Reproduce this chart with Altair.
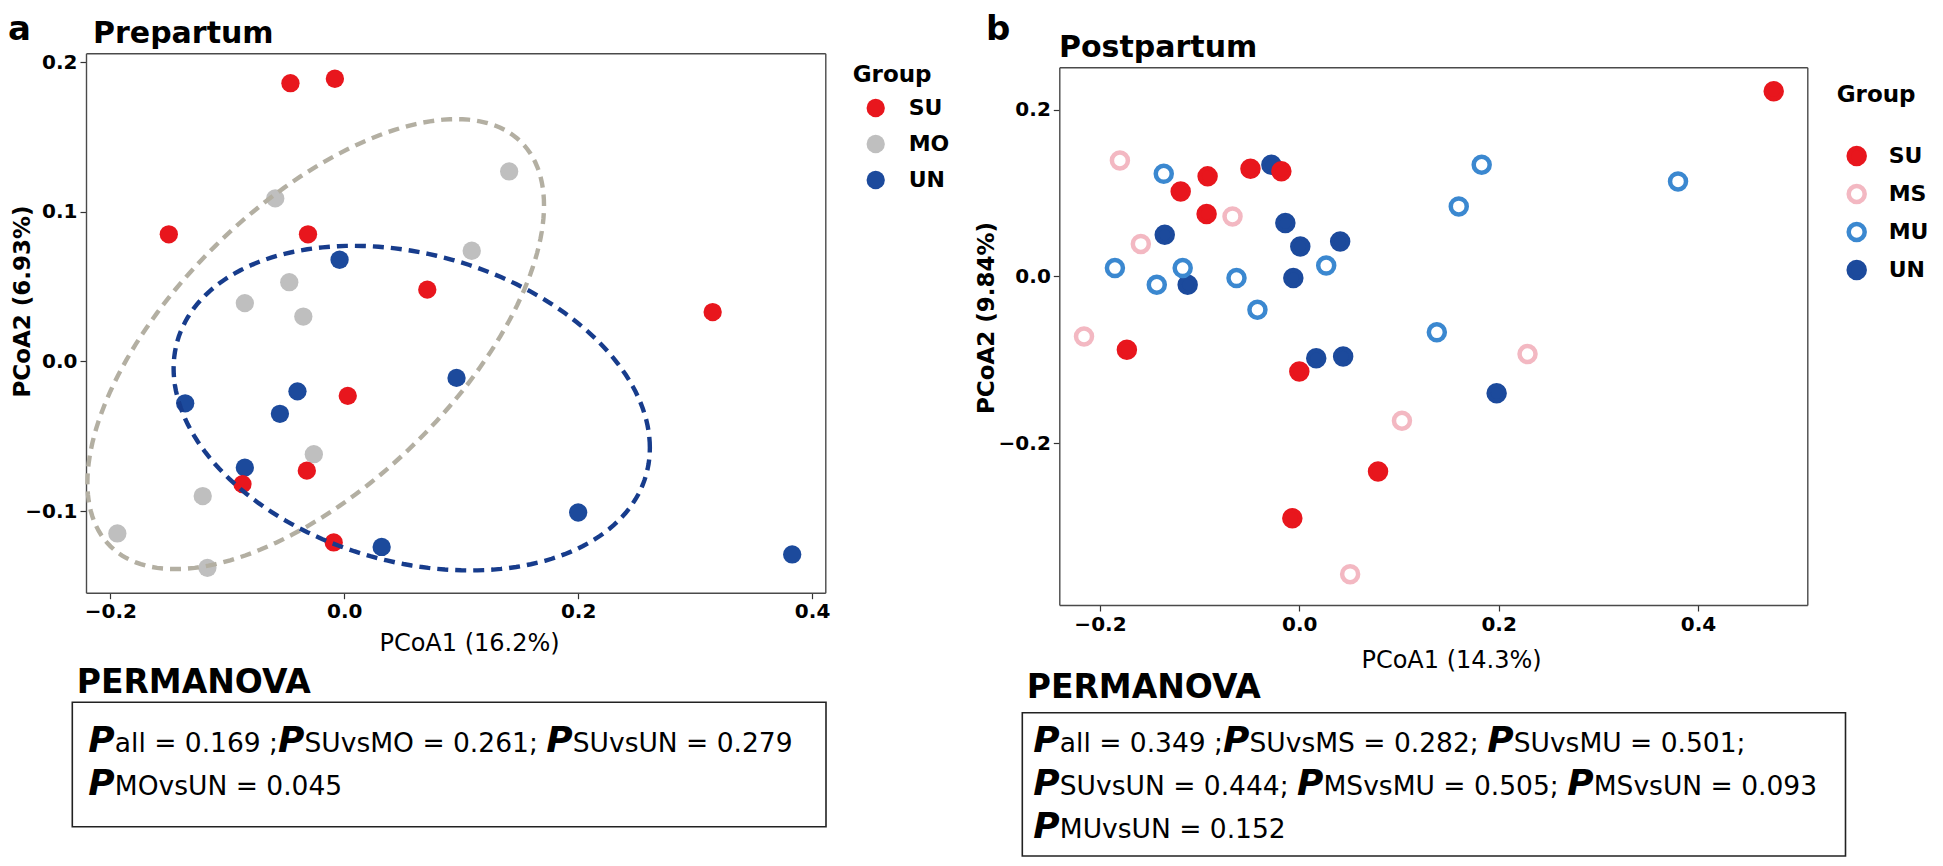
import numpy as np
import pandas as pd
import altair as alt

FONT = "DejaVu Sans"

# ---------------- data: (a) Prepartum ----------------
pre_groups = ["SU", "MO", "UN"]
pre_colors = ["#e8161d", "#bfbfbf", "#1c4a9c"]

pre_SU_x = [-0.046, -0.008, -0.150, -0.031, 0.071, 0.315, 0.003, -0.032, -0.087, -0.009]
pre_SU_y = [0.186, 0.189, 0.085, 0.085, 0.048, 0.033, -0.023, -0.073, -0.082, -0.121]
pre_MO_x = [0.141, -0.059, 0.109, -0.047, -0.085, -0.035, -0.026, -0.121, -0.194, -0.117]
pre_MO_y = [0.127, 0.109, 0.074, 0.053, 0.039, 0.030, -0.062, -0.090, -0.115, -0.138]
pre_UN_x = [-0.004, 0.096, -0.040, -0.136, -0.055, -0.085, 0.200, 0.032, 0.383]
pre_UN_y = [0.068, -0.011, -0.020, -0.028, -0.035, -0.071, -0.101, -0.124, -0.129]

# 95% ellipses (MO, UN): centre, spread, correlation
ell_groups = ["MO", "UN"]
ell_colors = ["#b3afa2", "#173c8c"]
ell_cx = [-0.0244, 0.0577]
ell_cy = [0.0116, -0.0312]
ell_sx = [0.1952, 0.2036]
ell_sy = [0.1504, 0.1085]
ell_r = [0.616, -0.2445]

# ---------------- data: (b) Postpartum ----------------
post_groups = ["SU", "MS", "MU", "UN"]
post_fill = ["#e8161d", "transparent", "transparent", "#1c4a9c"]
post_stroke = ["#e8161d", "#f3b8c2", "#3b88d0", "#1c4a9c"]

post_SU_x = [0.476, -0.092, -0.119, -0.049, -0.018, -0.093, -0.173, 0.000, 0.079, -0.007]
post_SU_y = [0.222, 0.120, 0.102, 0.129, 0.126, 0.075, -0.088, -0.114, -0.234, -0.290]
post_MS_x = [-0.180, -0.067, -0.159, -0.216, 0.229, 0.103, 0.051]
post_MS_y = [0.139, 0.072, 0.039, -0.072, -0.093, -0.173, -0.357]
post_MU_x = [-0.136, 0.183, 0.380, 0.160, -0.185, -0.117, -0.143, -0.063, 0.027, -0.042, 0.138]
post_MU_y = [0.123, 0.134, 0.114, 0.084, 0.010, 0.010, -0.010, -0.002, 0.013, -0.040, -0.067]
post_UN_x = [-0.028, -0.135, -0.014, 0.001, 0.041, -0.112, -0.006, 0.017, 0.044, 0.198]
post_UN_y = [0.134, 0.050, 0.064, 0.036, 0.042, -0.010, -0.002, -0.098, -0.096, -0.140]

# ---------------- text ----------------
pre_stats = [
    [("P", "all = 0.169 ;"), ("P", "SUvsMO = 0.261; "), ("P", "SUvsUN = 0.279")],
    [("P", "MOvsUN = 0.045")],
]
post_stats = [
    [("P", "all = 0.349 ;"), ("P", "SUvsMS = 0.282; "), ("P", "SUvsMU = 0.501;")],
    [("P", "SUvsUN = 0.444; "), ("P", "MSvsMU = 0.505; "), ("P", "MSvsUN = 0.093")],
    [("P", "MUvsUN = 0.152")],
]

# ---------------- layout (pixels, chart coordinates) ----------------
W, H = 1927, 850
L_XR, L_YR = [78.0, 817.3], [584.7, 45.3]
R_XR, R_YR = [1051.3, 1799.3], [597.0, 59.3]
L_XD, L_YD = [-0.2208, 0.4113], [-0.1546, 0.2060]
R_XD, R_YD = [-0.2408, 0.5097], [-0.3940, 0.2508]

# ---------------- tables ----------------
def mk(groups, xs, ys):
    rows = []
    for g, xv, yv in zip(groups, xs, ys):
        for a, b in zip(xv, yv):
            rows.append({"group": g, "x": a, "y": b})
    return pd.DataFrame(rows)

# drawing order: UN first, SU last
df_pre = mk(["UN", "MO", "SU"], [pre_UN_x, pre_MO_x, pre_SU_x], [pre_UN_y, pre_MO_y, pre_SU_y])
df_post = mk(["UN", "MU", "MS", "SU"], [post_UN_x, post_MU_x, post_MS_x, post_SU_x],
             [post_UN_y, post_MU_y, post_MS_y, post_SU_y])

t = np.linspace(0, 2 * np.pi, 181)
ell_frames = []
for k, g in enumerate(ell_groups):
    ex = ell_cx[k] + ell_sx[k] * np.cos(t)
    ey = ell_cy[k] + ell_sy[k] * (ell_r[k] * np.cos(t) + np.sqrt(1 - ell_r[k] ** 2) * np.sin(t))
    ell_frames.append(pd.DataFrame({"group": g, "i": np.arange(len(t)), "x": ex, "y": ey}))

# text segments widths (DejaVu Sans advance widths, em)
CW = {" ": .318, "=": .838, ".": .318, ";": .337, "a": .613, "l": .278, "S": .635,
      "U": .732, "v": .592, "s": .521, "M": .863, "O": .787, "N": .748}
def tw(s, fs):
    return sum(CW.get(c, .636) for c in s) * fs

FS_T, FS_P = 26.5, 36
def segs(lines, x0, baselines):
    prow, trow = [], []
    for line, by in zip(lines, baselines):
        x = x0
        for p, rest in line:
            prow.append({"text": p, "px": x, "py": by})
            x += 0.736 * FS_P
            trow.append({"text": rest.strip(), "px": x, "py": by})
            x += tw(rest, FS_T)
    return prow, trow

p1, t1 = segs(pre_stats, 80.3, [743.7, 787.0])
p2, t2 = segs(post_stats, 1025.3, [743.7, 787.0, 830.3])
df_P = pd.DataFrame(p1 + p2)
df_T = pd.DataFrame(t1 + t2)

df_titles = pd.DataFrame([
    {"text": "a", "px": 0, "py": 32, "fs": 34},
    {"text": "Prepartum", "px": 85, "py": 35, "fs": 30},
    {"text": "b", "px": 978, "py": 32, "fs": 34},
    {"text": "Postpartum", "px": 1051, "py": 49, "fs": 30},
    {"text": "PERMANOVA", "px": 68.7, "py": 685.3, "fs": 33},
    {"text": "PERMANOVA", "px": 1018.7, "py": 690.3, "fs": 33},
])
df_boxes = pd.DataFrame([
    {"x0": 64.3, "x1": 818.0, "y0": 694.3, "y1": 818.7},
    {"x0": 1014.3, "x1": 1837.5, "y0": 704.7, "y1": 848.0},
])

# ---------------- axes helpers ----------------
AX = dict(grid=False, domain=True, domainColor="#4a4a4a", domainWidth=1.4,
          tickColor="#333333", tickWidth=1.2, tickSize=6, labelPadding=3,
          labelFont=FONT, labelFontSize=20, labelFontWeight="bold", labelColor="black",
          labelFlush=False, labelOverlap=False, format=".1f")

def xaxis(offset, values, title, tx, ty):
    return alt.Axis(orient="bottom", offset=offset, values=values, title=title,
                    titleFont=FONT, titleFontSize=24, titleFontWeight="normal", titleColor="black",
                    titleX=tx, titleY=ty, titleAlign="center", titleBaseline="alphabetic", titleAngle=0,
                    **AX)

def yaxis(offset, values, title, tx, ty):
    return alt.Axis(orient="left", offset=offset, values=values, title=title,
                    titleFont=FONT, titleFontSize=23, titleFontWeight="bold", titleColor="black",
                    titleX=tx, titleY=ty, titleAlign="center", titleBaseline="top", titleAngle=270,
                    **AX)

def border(orient, offset):
    return alt.Axis(orient=orient, offset=offset, grid=False, domain=True, domainColor="#4a4a4a",
                    domainWidth=1.4, ticks=False, labels=False, title=None)

def sc(d, r):
    return alt.Scale(domain=d, range=r, nice=False, zero=False)

# ---------------- panel a ----------------
pts_a = alt.Chart(df_pre).mark_circle(size=335, opacity=1).encode(
    x=alt.X("x:Q", scale=sc(L_XD, L_XR),
            axis=xaxis(L_YR[0] - H, [-0.2, 0.0, 0.2, 0.4], "PCoA1 (16.2%)", 461, 58)),
    y=alt.Y("y:Q", scale=sc(L_YD, L_YR),
            axis=yaxis(-L_XR[0], [-0.1, 0.0, 0.1, 0.2], "PCoA2 (6.93%)", 3 - L_XR[0], 293)),
    color=alt.Color("group:N", scale=alt.Scale(domain=pre_groups, range=pre_colors),
                    legend=alt.Legend(title="Group", orient="none", legendX=844.7, legendY=56,
                                      titleFont=FONT, titleFontSize=23, titleFontWeight="bold",
                                      titleColor="black", titlePadding=10,
                                      labelFont=FONT, labelFontSize=22, labelFontWeight="bold",
                                      labelColor="black", labelOffset=22,
                                      symbolType="circle", symbolSize=335, symbolOffset=12,
                                      symbolStrokeWidth=0, rowPadding=14)),
)

ell_a1 = alt.Chart(ell_frames[0]).mark_line(strokeDash=[11, 7], strokeWidth=4.4,
                                            color=ell_colors[0]).encode(
    x=alt.X("x:Q", scale=sc(L_XD, L_XR), axis=border("top", -L_YR[1])),
    y=alt.Y("y:Q", scale=sc(L_YD, L_YR), axis=border("right", L_XR[1] - W)),
    order="i:Q",
)
ell_a2 = alt.Chart(ell_frames[1]).mark_line(strokeDash=[11, 7], strokeWidth=4.4,
                                            color=ell_colors[1]).encode(
    x=alt.X("x:Q", scale=sc(L_XD, L_XR), axis=None),
    y=alt.Y("y:Q", scale=sc(L_YD, L_YR), axis=None),
    order="i:Q",
)

# ---------------- panel b ----------------
leg_b = dict(title="Group", orient="none", legendX=1828.7, legendY=76,
             titleFont=FONT, titleFontSize=23, titleFontWeight="bold", titleColor="black",
             titlePadding=38, labelFont=FONT, labelFontSize=22, labelFontWeight="bold",
             labelColor="black", labelOffset=21, symbolType="circle", symbolSize=256,
             symbolOffset=9, symbolStrokeWidth=4.5, rowPadding=4)

pts_b = alt.Chart(df_post).mark_point(shape="circle", size=256, strokeWidth=4.5, opacity=1).encode(
    x=alt.X("x:Q", scale=sc(R_XD, R_XR),
            axis=xaxis(R_YR[0] - H, [-0.2, 0.0, 0.2, 0.4], "PCoA1 (14.3%)", 1443, 62)),
    y=alt.Y("y:Q", scale=sc(R_YD, R_YR),
            axis=yaxis(-R_XR[0], [-0.2, 0.0, 0.2], "PCoA2 (9.84%)", 967 - R_XR[0], 309.5)),
    fill=alt.Fill("group:N", scale=alt.Scale(domain=post_groups, range=post_fill),
                  legend=alt.Legend(**leg_b)),
    stroke=alt.Stroke("group:N", scale=alt.Scale(domain=post_groups, range=post_stroke),
                      legend=alt.Legend(**leg_b)),
)

frame_b = alt.Chart(df_post).mark_point(opacity=0).encode(
    x=alt.X("x:Q", scale=sc(R_XD, R_XR), axis=border("top", -R_YR[1])),
    y=alt.Y("y:Q", scale=sc(R_YD, R_YR), axis=border("right", R_XR[1] - W)),
)

# ---------------- annotations ----------------
titles = alt.Chart(df_titles).mark_text(font=FONT, fontWeight="bold", align="left",
                                        baseline="alphabetic", color="black").encode(
    x=alt.X("px:Q", scale=None, axis=None),
    y=alt.Y("py:Q", scale=None, axis=None),
    size=alt.Size("fs:Q", scale=None, legend=None),
    text="text:N",
)
p_txt = alt.Chart(df_P).mark_text(font=FONT, fontWeight="bold", fontStyle="italic",
                                  fontSize=FS_P, align="left", baseline="alphabetic",
                                  color="black").encode(
    x=alt.X("px:Q", scale=None, axis=None),
    y=alt.Y("py:Q", scale=None, axis=None),
    text="text:N",
)
t_txt = alt.Chart(df_T).mark_text(font=FONT, fontSize=FS_T, align="left",
                                  baseline="alphabetic", color="black").encode(
    x=alt.X("px:Q", scale=None, axis=None),
    y=alt.Y("py:Q", scale=None, axis=None),
    text="text:N",
)
boxes = alt.Chart(df_boxes).mark_rect(fill="transparent", stroke="#222222",
                                      strokeWidth=1.6).encode(
    x=alt.X("x0:Q", scale=None, axis=None), x2="x1:Q",
    y=alt.Y("y0:Q", scale=None, axis=None), y2="y1:Q",
)

chart = alt.layer(
    pts_a, ell_a1, ell_a2, pts_b, frame_b, titles, p_txt, t_txt, boxes
).resolve_scale(
    x="independent", y="independent", color="independent",
    fill="independent", stroke="independent"
).properties(
    width=W, height=H, padding=0,
    autosize=alt.AutoSizeParams(type="none"),
    background="white",
).configure_view(stroke=None)

chart.save("out.html", embed_options={"renderer": "svg", "actions": False})
